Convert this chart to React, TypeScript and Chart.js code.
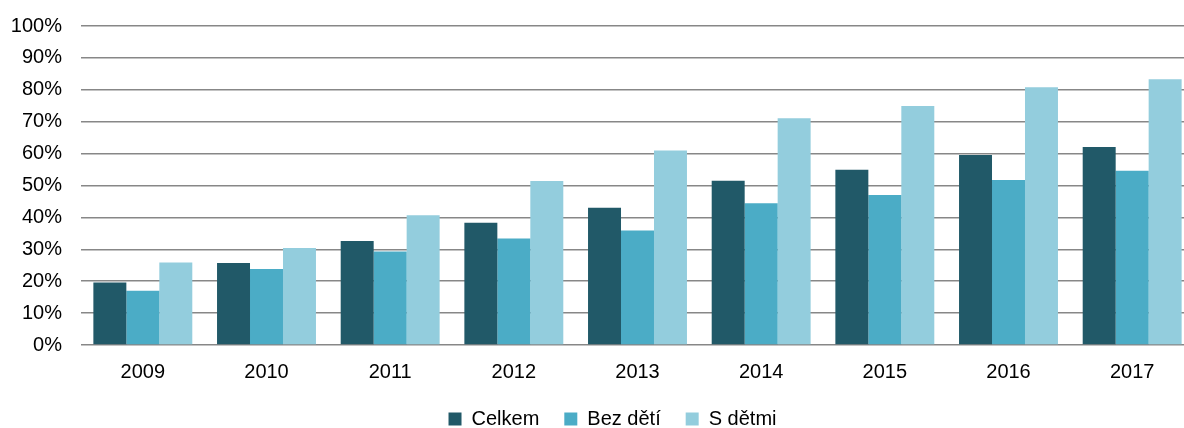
import React, { useEffect, useRef } from "react";
import { Chart, registerables } from "chart.js";

Chart.register(...registerables);

const categories = ["2009", "2010", "2011", "2012", "2013", "2014", "2015", "2016", "2017"];
const celkem = [19.6, 25.7, 32.6, 38.3, 43.0, 51.5, 54.9, 59.6, 62.1];
const bezDeti = [17.0, 23.8, 29.3, 33.4, 35.9, 44.4, 47.0, 51.7, 54.6];
const sDetmi = [25.9, 30.4, 40.7, 51.4, 61.0, 71.1, 74.9, 80.8, 83.3];
const seriesNames = ["Celkem", "Bez dětí", "S dětmi"];
const seriesColors = ["#215968", "#4BACC6", "#93CDDD"];

const FONT = "'Liberation Sans', Arial, sans-serif";

export default function App() {
  const ref = useRef<HTMLCanvasElement | null>(null);

  useEffect(() => {
    if (!ref.current) return;
    const chart = new Chart(ref.current, {
      type: "bar",
      data: {
        labels: categories,
        datasets: [celkem, bezDeti, sDetmi].map((d, i) => ({
          label: seriesNames[i],
          data: d,
          backgroundColor: seriesColors[i],
          borderWidth: 0,
          categoryPercentage: 0.8,
          barPercentage: 1.0,
        })),
      },
      options: {
        responsive: false,
        animation: false,
        devicePixelRatio: 1,
        layout: { padding: { top: 18.5, left: 0, right: 0, bottom: 0 } },
        plugins: {
          tooltip: { enabled: false },
          legend: {
            position: "bottom",
            labels: {
              boxWidth: 13,
              boxHeight: 13,
              padding: 25,
              color: "#000",
              font: { family: FONT, size: 20 },
            },
          },
        },
        scales: {
          x: {
            grid: { display: false },
            border: { display: false },
            ticks: { color: "#000", font: { family: FONT, size: 20 }, padding: 7, maxRotation: 0 },
            afterFit: (s: any) => {
              s.height = 39;
            },
          },
          y: {
            min: 0,
            max: 100,
            border: { display: false },
            grid: { color: "#878787", lineWidth: 1.5, drawTicks: false },
            ticks: {
              stepSize: 10,
              color: "#000",
              padding: 19,
              font: { family: FONT, size: 20 },
              callback: (v: any) => v + "%",
            },
            afterFit: (s: any) => {
              s.width = 81;
            },
          },
          y2: {
            position: "right",
            display: true,
            grid: { display: false },
            border: { display: false },
            ticks: { display: false },
            afterFit: (s: any) => {
              s.width = 31;
            },
          },
        },
      },
    });
    return () => chart.destroy();
  }, []);

  return (
    <div style={{ position: "absolute", left: 0, top: 0, width: 1184, height: 428, overflow: "hidden", background: "#fff" }}>
      <canvas
        ref={ref}
        width={1225}
        height={444}
        style={{ display: "block", position: "absolute", left: 0, top: -5.5 }}
      />
    </div>
  );
}
